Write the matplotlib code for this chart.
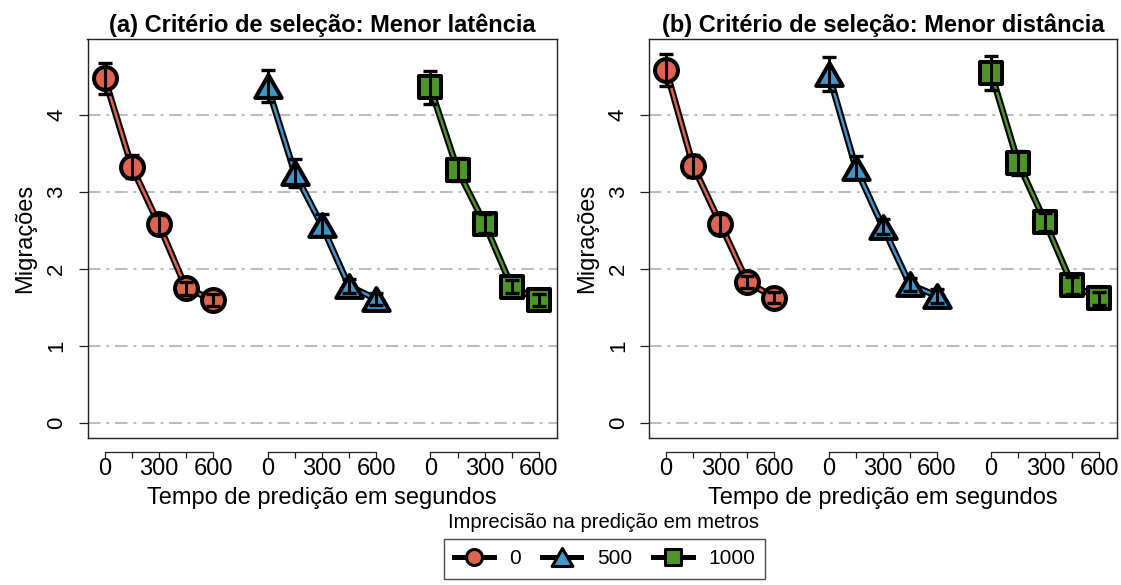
import matplotlib
matplotlib.use('Agg')
import matplotlib.pyplot as plt
from matplotlib.markers import MarkerStyle
from matplotlib.lines import Line2D
from matplotlib.path import Path

plt.rcParams['font.family'] = ['Liberation Sans', 'DejaVu Sans']

# ---------------- data ----------------
times = [0, 150, 300, 450, 600]
tick_labels = ['0', '', '300', '', '600']
imprecisions = ['0', '500', '1000']
group_offsets = [0, 900, 1800]
colors = ['#DE6452', '#4395C9', '#4D9527']

titles = ['(a) Critério de seleção: Menor latência',
          '(b) Critério de seleção: Menor distância']

# panel (a): lowest latency
lat_0 = [4.48, 3.33, 2.58, 1.75, 1.60]
lat_500 = [4.38, 3.25, 2.57, 1.78, 1.61]
lat_1000 = [4.36, 3.29, 2.59, 1.77, 1.60]
lat_0_err = [0.20, 0.15, 0.12, 0.085, 0.075]
lat_500_err = [0.205, 0.18, 0.14, 0.087, 0.076]
lat_1000_err = [0.21, 0.15, 0.125, 0.087, 0.08]

# panel (b): lowest distance
dist_0 = [4.59, 3.34, 2.59, 1.83, 1.63]
dist_500 = [4.54, 3.32, 2.55, 1.80, 1.65]
dist_1000 = [4.55, 3.38, 2.61, 1.79, 1.62]
dist_0_err = [0.21, 0.14, 0.13, 0.08, 0.076]
dist_500_err = [0.22, 0.15, 0.10, 0.087, 0.087]
dist_1000_err = [0.22, 0.16, 0.12, 0.11, 0.087]

panels = [
    ([lat_0, lat_500, lat_1000], [lat_0_err, lat_500_err, lat_1000_err]),
    ([dist_0, dist_500, dist_1000], [dist_0_err, dist_500_err, dist_1000_err]),
]

# bbox-centred triangle marker
tri_path = Path([(0, 0.45), (-0.52, -0.45), (0.52, -0.45), (0, 0.45)],
                [Path.MOVETO, Path.LINETO, Path.LINETO, Path.CLOSEPOLY])
marker_shapes = ['o', tri_path, 's']

# ---------------- figure ----------------
W, H = 1121, 585
fig = plt.figure(figsize=(W / 100, H / 100), dpi=100)

def fx(px):
    return px / W

def fy(py):
    return 1 - py / H

ax_boxes = [(87.5, 556.5), (649, 1117)]
top_px, bot_px = 39, 438

marker_sizes = [16.5, 19, 16]
FS = 17

for p, ((left, right), (means, errs)) in enumerate(zip(ax_boxes, panels)):
    ax = fig.add_axes([fx(left), fy(bot_px), fx(right - left), (bot_px - top_px) / H])
    ax.set_xlim(-95, 2497)
    ax.set_ylim(-0.195, 4.99)

    # grid
    for yv in range(0, 5):
        ax.axhline(yv, color='#BEBEBE', lw=1.5, ls=(0, (6, 2.8, 1.4, 2.8)), zorder=0)

    for g in range(3):
        xs = [t + group_offsets[g] for t in times]
        ax.plot(xs, means[g], color='black', lw=4.8, solid_capstyle='round',
                solid_joinstyle='round', zorder=2)
        ax.plot(xs, means[g], color=colors[g], lw=1.8, solid_capstyle='round',
                solid_joinstyle='round', zorder=3)
        ax.plot(xs, means[g], ls='none',
                marker=MarkerStyle(marker_shapes[g], joinstyle='round'),
                ms=marker_sizes[g], mfc=colors[g], mec='black', mew=2.9, zorder=4)
        ax.errorbar(xs, means[g], yerr=errs[g], fmt='none', ecolor='black',
                    elinewidth=2.2, capsize=5, capthick=2.4, zorder=5)

    # spines / box
    for s in ['left', 'right', 'top']:
        ax.spines[s].set_linewidth(1.0)
        ax.spines[s].set_color('#222222')
    ax.spines['bottom'].set_position(('outward', 10))
    ax.spines['bottom'].set_visible(False)
    ax.plot([0, 1], [0, 0], transform=ax.transAxes, color='#222222', lw=1.0,
            clip_on=False, zorder=6)

    # x axis: one short axis per group
    xt = []
    xl = []
    for g in range(3):
        xt += [t + group_offsets[g] for t in times]
        xl += tick_labels
    ax.set_xticks(xt)
    ax.set_xticklabels(xl)
    ax.tick_params(axis='x', direction='out', length=4.5, width=0.9, pad=0,
                   labelsize=FS, color='#222222')
    tr = ax.get_xaxis_transform(which='tick1')
    for g in range(3):
        ax.plot([group_offsets[g], group_offsets[g] + 600], [0, 0], transform=tr,
                color='#222222', lw=0.9, clip_on=False)

    # y axis
    ax.set_yticks([0, 1, 2, 3, 4])
    ax.set_yticklabels(['0', '1', '2', '3', '4'], rotation=90, va='center')
    ax.tick_params(axis='y', direction='out', length=6.5, width=0.9, pad=8,
                   labelsize=FS - 1, color='#222222')

    ax.set_title(titles[p], fontsize=FS, fontweight='bold', pad=5)

    cx = (left + right) / 2
    fig.text(fx(cx), fy(498), 'Tempo de predição em segundos', ha='center',
             va='center', fontsize=FS)
    fig.text(fx(left - 62), fy((top_px + bot_px) / 2), 'Migrações', rotation=90,
             ha='center', va='center', fontsize=FS)

# legend
fig.text(fx(604), fy(523), 'Imprecisão na predição em metros', ha='center',
         va='center', fontsize=14.5)
legend_ms = [11.5, 15, 11.5]
handles = [Line2D([], [], color='black', lw=3.6,
                  marker=MarkerStyle(marker_shapes[g], joinstyle='round'),
                  ms=legend_ms[g], mfc=colors[g], mec='black', mew=2.2)
           for g in range(3)]
leg = fig.legend(handles, imprecisions, loc='upper center',
                 bbox_to_anchor=(fx(604.5), fy(539)), ncol=3, frameon=True,
                 fancybox=False, edgecolor='#222222', fontsize=15,
                 handlelength=1.9, handletextpad=0.75, columnspacing=1.0,
                 borderpad=0.5, borderaxespad=0)
leg.get_frame().set_linewidth(1.0)

fig.savefig('out.png', dpi=100)
